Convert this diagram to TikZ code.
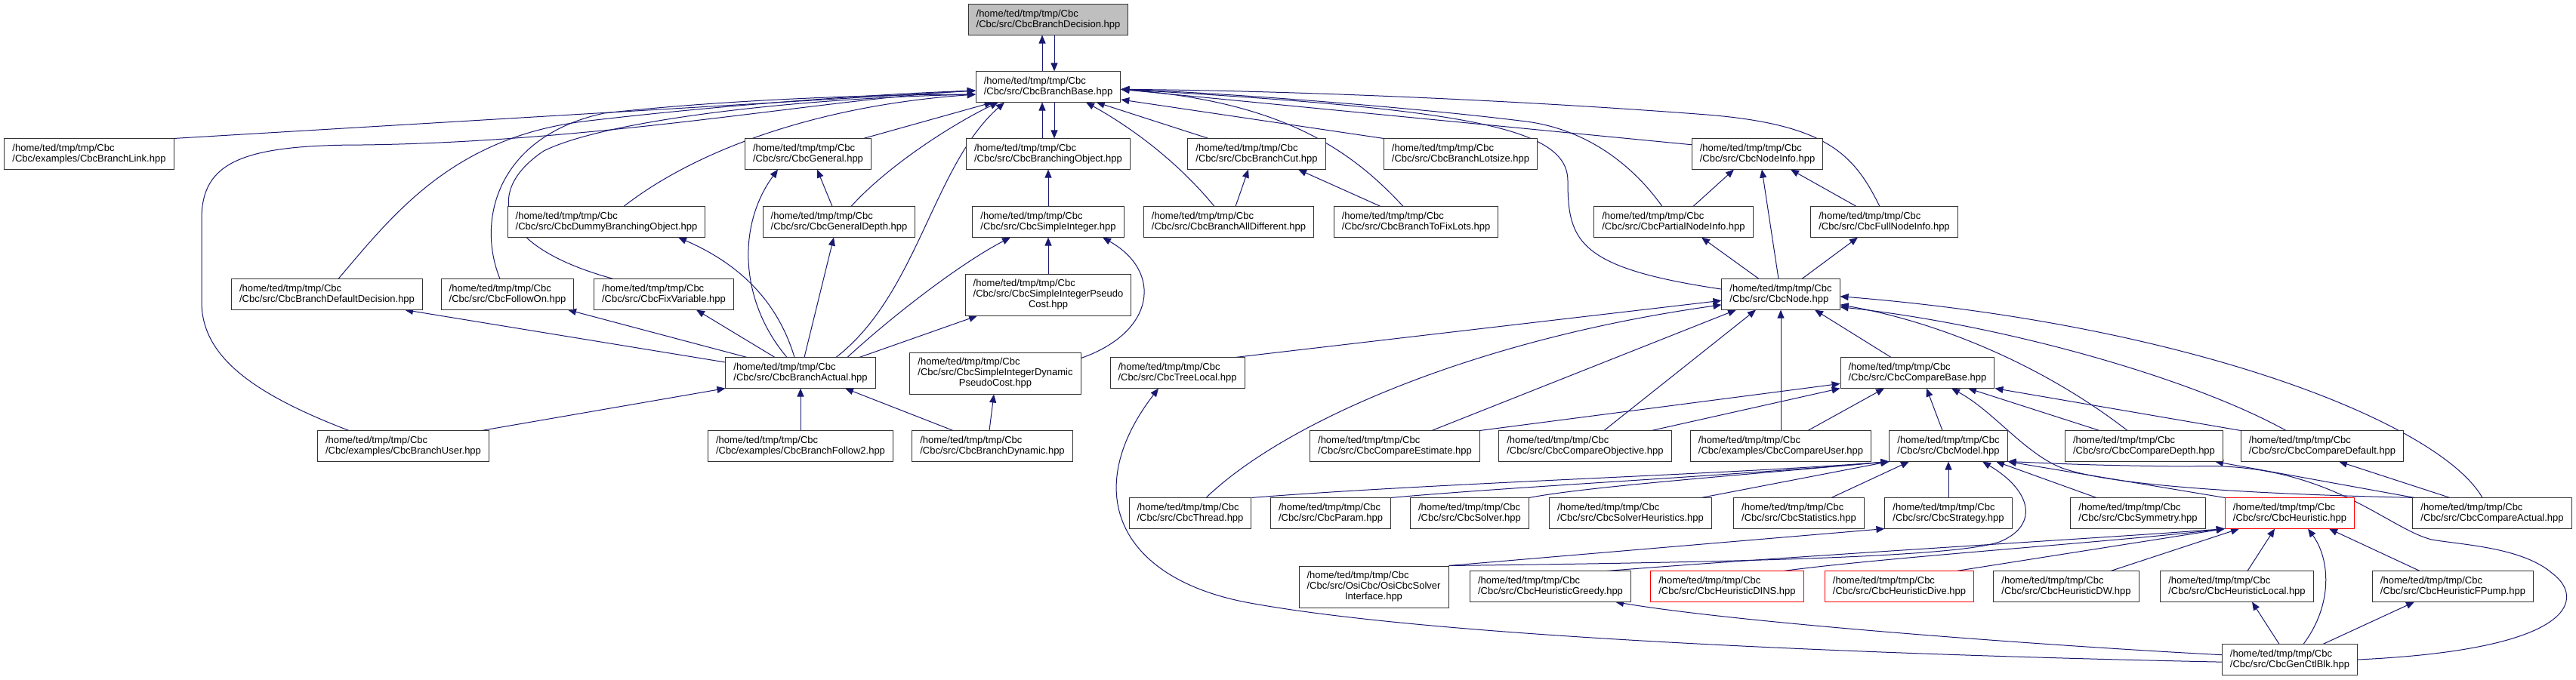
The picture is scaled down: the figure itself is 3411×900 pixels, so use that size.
\documentclass[tikz,border=0pt]{standalone}
\usepackage{fontspec}
\setmainfont{Liberation Sans}
\usetikzlibrary{arrows.meta,backgrounds}
\definecolor{edgeblue}{HTML}{191970}
\newcommand{\cbcfile}[1]{/home/ted/tmp/tmp/Cbc\\/Cbc/#1}
\newcommand{\cbcthree}[2]{\begin{tabular}{@{}l@{}}/home/ted/tmp/tmp/Cbc\\/Cbc/#1\\\multicolumn{1}{@{}c@{}}{#2}\end{tabular}}
\tikzset{
  hfile/.style={draw=black!80, line width=1pt, fill=white, align=left, inner xsep=10.5pt,
    inner ysep=7pt, minimum height=40pt, font=\fontsize{13}{14}\selectfont},
  hthree/.style={hfile, inner ysep=6.5pt},
  rootfile/.style={hfile, fill=black!25},
  redfile/.style={hfile, draw=red},
  incl/.style={draw=edgeblue, line width=1pt, -{Triangle[length=11pt,width=9pt]}}
}
\begin{document}
\begin{tikzpicture}[x=1pt,y=-1pt]
\useasboundingbox (0,0) rectangle (3411,900);
% row 0 - 2
\node[rootfile] (decision) at (1388,26) {\cbcfile{src/CbcBranchDecision.hpp}};
\node[hfile] (base) at (1388,115) {\cbcfile{src/CbcBranchBase.hpp}};
\node[hfile] (link) at (118,204) {\cbcfile{examples/CbcBranchLink.hpp}};
\node[hfile] (general) at (1070,204) {\cbcfile{src/CbcGeneral.hpp}};
\node[hfile] (branching) at (1388,204) {\cbcfile{src/CbcBranchingObject.hpp}};
\node[hfile] (cut) at (1664,204) {\cbcfile{src/CbcBranchCut.hpp}};
\node[hfile] (lotsize) at (1934,204) {\cbcfile{src/CbcBranchLotsize.hpp}};
\node[hfile] (nodeinfo) at (2327,204) {\cbcfile{src/CbcNodeInfo.hpp}};
% row 3 - 4
\node[hfile] (dummy) at (803,294) {\cbcfile{src/CbcDummyBranchingObject.hpp}};
\node[hfile] (gdepth) at (1111,294) {\cbcfile{src/CbcGeneralDepth.hpp}};
\node[hfile] (simpleint) at (1388,294) {\cbcfile{src/CbcSimpleInteger.hpp}};
\node[hfile] (alldiff) at (1627,294) {\cbcfile{src/CbcBranchAllDifferent.hpp}};
\node[hfile] (tofix) at (1875,294) {\cbcfile{src/CbcBranchToFixLots.hpp}};
\node[hfile] (partial) at (2216,294) {\cbcfile{src/CbcPartialNodeInfo.hpp}};
\node[hfile] (full) at (2495,294) {\cbcfile{src/CbcFullNodeInfo.hpp}};
\node[hfile] (defdec) at (433,390) {\cbcfile{src/CbcBranchDefaultDecision.hpp}};
\node[hfile] (followon) at (672,390) {\cbcfile{src/CbcFollowOn.hpp}};
\node[hfile] (fixvar) at (879,390) {\cbcfile{src/CbcFixVariable.hpp}};
\node[hthree] (pseudo) at (1388,390.5) {\cbcthree{src/CbcSimpleIntegerPseudo}{Cost.hpp}};
\node[hfile] (cnode) at (2358,390) {\cbcfile{src/CbcNode.hpp}};
% row 5 - 6
\node[hfile] (actual) at (1060,494) {\cbcfile{src/CbcBranchActual.hpp}};
\node[hthree] (dynpseudo) at (1318,494.5) {\cbcthree{src/CbcSimpleIntegerDynamic}{PseudoCost.hpp}};
\node[hfile] (treelocal) at (1559,494) {\cbcfile{src/CbcTreeLocal.hpp}};
\node[hfile] (cbase) at (2539,494) {\cbcfile{src/CbcCompareBase.hpp}};
\node[hfile] (user) at (534,591) {\cbcfile{examples/CbcBranchUser.hpp}};
\node[hfile] (follow2) at (1060,591) {\cbcfile{examples/CbcBranchFollow2.hpp}};
\node[hfile] (bdynamic) at (1314,591) {\cbcfile{src/CbcBranchDynamic.hpp}};
\node[hfile] (cestimate) at (1847,591) {\cbcfile{src/CbcCompareEstimate.hpp}};
\node[hfile] (cobjective) at (2099,591) {\cbcfile{src/CbcCompareObjective.hpp}};
\node[hfile] (cuser) at (2358,591) {\cbcfile{examples/CbcCompareUser.hpp}};
\node[hfile] (model) at (2580,591) {\cbcfile{src/CbcModel.hpp}};
\node[hfile] (cdepth) at (2839,591) {\cbcfile{src/CbcCompareDepth.hpp}};
\node[hfile] (cdefault) at (3075,591) {\cbcfile{src/CbcCompareDefault.hpp}};
% row 7 - 9
\node[hfile] (thread) at (1576,680) {\cbcfile{src/CbcThread.hpp}};
\node[hfile] (param) at (1762,680) {\cbcfile{src/CbcParam.hpp}};
\node[hfile] (solver) at (1946,680) {\cbcfile{src/CbcSolver.hpp}};
\node[hfile] (solverheur) at (2159,680) {\cbcfile{src/CbcSolverHeuristics.hpp}};
\node[hfile] (stats) at (2382,680) {\cbcfile{src/CbcStatistics.hpp}};
\node[hfile] (strategy) at (2580,680) {\cbcfile{src/CbcStrategy.hpp}};
\node[hfile] (symmetry) at (2831,680) {\cbcfile{src/CbcSymmetry.hpp}};
\node[redfile] (heur) at (3032,680) {\cbcfile{src/CbcHeuristic.hpp}};
\node[hfile] (cactual) at (3300,680) {\cbcfile{src/CbcCompareActual.hpp}};
\node[hthree] (osi) at (1819,777.5) {\cbcthree{src/OsiCbc/OsiCbcSolver}{Interface.hpp}};
\node[hfile] (greedy) at (2053,777) {\cbcfile{src/CbcHeuristicGreedy.hpp}};
\node[redfile] (dins) at (2287,777) {\cbcfile{src/CbcHeuristicDINS.hpp}};
\node[redfile] (dive) at (2515,777) {\cbcfile{src/CbcHeuristicDive.hpp}};
\node[hfile] (dw) at (2736,777) {\cbcfile{src/CbcHeuristicDW.hpp}};
\node[hfile] (hlocal) at (2962,777) {\cbcfile{src/CbcHeuristicLocal.hpp}};
\node[hfile] (fpump) at (3248,777) {\cbcfile{src/CbcHeuristicFPump.hpp}};
\node[hfile] (genctl) at (3032,874) {\cbcfile{src/CbcGenCtlBlk.hpp}};

\begin{scope}[on background layer]
% decision, base, branching object
\draw[incl] ([xshift=-8pt]base.north) -- ([xshift=-8pt]decision.south);
\draw[incl] ([xshift=8pt]decision.south) -- ([xshift=8pt]base.north);
\draw[incl] ([xshift=-8pt]branching.north) -- ([xshift=-8pt]base.south);
\draw[incl] ([xshift=8pt]base.south) -- ([xshift=8pt]branching.north);
% into base, left side
\draw[incl] (link.north east) -- (base.183);
\draw[incl] ([xshift=-72pt]user.north) .. controls (330,520) and (267,470) .. (267,400) -- (267,290)
  .. controls (267,215) and (320,192) .. (480,192) .. controls (800,188) and (1100,130) .. (base.183);
\draw[incl] ([xshift=15pt]defdec.north) .. controls (520,285) and (600,180) .. (780,160)
  .. controls (950,140) and (1150,125) .. (base.183);
\draw[incl] ([xshift=-10pt]followon.north) .. controls (630,290) and (660,180) .. (800,150)
  .. controls (950,133) and (1150,125) .. (base.186);
\draw[incl] ([xshift=-67pt]fixvar.north) .. controls (650,325) and (645,250) .. (720,200)
  .. controls (800,160) and (1050,130) .. (base.186);
\draw[incl] ([xshift=23pt]dummy.north) .. controls (920,200) and (1080,140) .. (base.186);
% into base, bottom
\draw[incl] (general) -- (base);
\draw[incl] ([xshift=16pt]gdepth.north) .. controls (1180,215) and (1270,160) .. ([xshift=-66pt]base.south);
\draw[incl] ([xshift=47pt]actual.north) .. controls (1215,390) and (1235,220) .. ([xshift=-58pt]base.south);
\draw[incl] (cut) -- (base);
\draw[incl] ([xshift=-19pt]alldiff.north) .. controls (1560,215) and (1500,170) .. ([xshift=50pt]base.south);
% into base, right side
\draw[incl] ([xshift=-17pt]tofix.north) .. controls (1790,200) and (1700,135) .. (base.-2);
\draw[incl] (lotsize.north west) -- (base.-10);
\draw[incl] (nodeinfo.172) -- (base.-2);
\draw[incl] ([xshift=-15pt]partial.north) .. controls (2170,230) and (2110,170) .. (2013,160)
  .. controls (1850,140) and (1600,122) .. (base.-2);
\draw[incl] ([xshift=-6pt]full.north) .. controls (2455,205) and (2420,165) .. (2260,152)
  .. controls (2000,132) and (1700,120) .. (base.-2);
\draw[incl] (cnode.175) .. controls (2090,355) and (2076,320) .. (2076,240)
  .. controls (2076,170) and (1950,145) .. (base.-2);
% branch actual and friends
\draw[incl] ([xshift=-9pt]gdepth.north) -- ([xshift=12pt]general.south);
\draw[incl] ([xshift=-18pt]actual.north) .. controls (980,400) and (975,300) .. ([xshift=-40pt]general.south);
\draw[incl] ([xshift=5pt]actual.north) -- ([xshift=-7pt]gdepth.south);
\draw[incl] ([xshift=-8pt]actual.north) .. controls (1030,400) and (980,350) .. ([xshift=95pt]dummy.south);
\draw[incl] ([xshift=-71pt]actual.north) -- ([xshift=80pt]followon.south);
\draw[incl] ([xshift=-34pt]actual.north) -- ([xshift=43pt]fixvar.south);
\draw[incl] (actual.172) -- ([xshift=103pt]defdec.south);
\draw[incl] ([xshift=62pt]actual.north) .. controls (1180,420) and (1270,350) .. ([xshift=-50pt]simpleint.south);
\draw[incl] ([xshift=78pt]actual.north) -- ([xshift=-94pt]pseudo.south);
\draw[incl] ([xshift=104pt]user.north) -- (actual.south west);
\draw[incl] (follow2) -- (actual);
\draw[incl] ([xshift=-52pt]bdynamic.north) -- ([xshift=59pt]actual.south);
\draw[incl] (simpleint) -- (branching);
\draw[incl] (pseudo) -- (simpleint);
\draw[incl] (dynpseudo.10) .. controls (1530,440) and (1540,360) .. ([xshift=72pt]simpleint.south);
\draw[incl] ([xshift=-4pt]bdynamic.north) -- ([xshift=-2pt]dynpseudo.south);
\draw[incl] ([xshift=9pt]alldiff.north) -- ([xshift=-11pt]cut.south);
\draw[incl] ([xshift=-47pt]tofix.north) -- ([xshift=55pt]cut.south);
% node info
\draw[incl] ([xshift=26pt]partial.north) -- ([xshift=-31pt]nodeinfo.south);
\draw[incl] ([xshift=-3pt]cnode.north) -- ([xshift=6pt]nodeinfo.south);
\draw[incl] ([xshift=-37pt]full.north) -- ([xshift=44pt]nodeinfo.south);
\draw[incl] ([xshift=-29pt]cnode.north) -- ([xshift=37pt]partial.south);
\draw[incl] ([xshift=28pt]cnode.north) -- ([xshift=-35pt]full.south);
% into node
\draw[incl] ([xshift=77pt]treelocal.north) -- (cnode.186);
\draw[incl] ([xshift=21pt]thread.north) .. controls (1700,560) and (1950,450) .. (cnode.190);
\draw[incl] ([xshift=49pt]cestimate.north) -- ([xshift=-59pt]cnode.south);
\draw[incl] ([xshift=25pt]cobjective.north) -- ([xshift=-33pt]cnode.south);
\draw[incl] (cuser) -- (cnode);
\draw[incl] ([xshift=-35pt]cbase.north) -- ([xshift=45pt]cnode.south);
\draw[incl] ([xshift=-22pt]cdepth.north) .. controls (2700,480) and (2560,425) .. (cnode.-10);
\draw[incl] ([xshift=-48pt]cdefault.north) .. controls (2900,500) and (2650,430) .. (cnode.-12);
\draw[incl] ([xshift=-13pt]cactual.north) .. controls (3230,560) and (2900,430) .. (cnode.-2);
% into compare base
\draw[incl] (cestimate.north east) -- (cbase.188);
\draw[incl] ([xshift=88pt]cobjective.north) -- (cbase.south west);
\draw[incl] ([xshift=36pt]cuser.north) -- ([xshift=-44pt]cbase.south);
\draw[incl] ([xshift=-8pt]model.north) -- ([xshift=12pt]cbase.south);
\draw[incl] ([xshift=-103pt]cactual.north) .. controls (3000,655) and (2800,645) .. (2730,620)
  .. controls (2680,600) and (2640,545) .. ([xshift=45pt]cbase.south);
\draw[incl] ([xshift=-59pt]cdepth.north) -- ([xshift=67pt]cbase.south);
\draw[incl] (cdefault.north west) -- (cbase.south east);
\draw[incl] ([xshift=-103pt]cactual.north) -- ([xshift=94pt]cdepth.south);
\draw[incl] ([xshift=-56pt]cactual.north) -- ([xshift=22pt]cdefault.south);
% into model
\draw[incl] (thread.north east) .. controls (1900,640) and (2300,628) .. (model.south west);
\draw[incl] (param.north east) .. controls (2000,645) and (2300,630) .. (model.south west);
\draw[incl] (solver.north east) .. controls (2100,645) and (2300,630) .. (model.south west);
\draw[incl] ([xshift=-14pt]solverheur.north east) -- (model.south west);
\draw[incl] ([xshift=43pt]stats.north) -- ([xshift=-52pt]model.south);
\draw[incl] (strategy) -- (model);
\draw[incl] (osi.north east) .. controls (2300,745) and (2600,738) .. (2650,717)
  .. controls (2700,695) and (2690,650) .. ([xshift=45pt]model.south);
\draw[incl] (osi.north east) -- (strategy.south west);
\draw[incl] ([xshift=-55pt]symmetry.north) -- ([xshift=63pt]model.south);
\draw[incl] (heur.north west) -- (model.south east);
\draw[incl] (genctl.east) .. controls (3420,860) and (3420,790) .. (3380,760)
  .. controls (3340,725) and (3260,722) .. (3220,715)
  .. controls (3160,700) and (3080,610) .. (2900,618)
  .. controls (2760,617) and (2700,613) .. (model.south east);
% into heuristic
\draw[incl] ([xshift=75pt]greedy.north) .. controls (2400,735) and (2800,712) .. (heur.south west);
\draw[incl] ([xshift=75pt]dins.north) .. controls (2500,738) and (2800,718) .. (heur.south west);
\draw[incl] ([xshift=76pt]dive.north) -- (heur.south west);
\draw[incl] ([xshift=59pt]dw.north) -- ([xshift=-67pt]heur.south);
\draw[incl] ([xshift=14pt]hlocal.north) -- ([xshift=-20pt]heur.south);
\draw[incl] ([xshift=18pt]genctl.north) .. controls (3090,800) and (3085,740) .. ([xshift=24pt]heur.south);
\draw[incl] ([xshift=-44pt]fpump.north) -- ([xshift=52pt]heur.south);
% gen ctl blk
\draw[incl] ([xshift=-14pt]genctl.north) -- ([xshift=20pt]hlocal.south);
\draw[incl] ([xshift=44pt]genctl.north) -- ([xshift=-51pt]fpump.south);
\draw[incl] (genctl.176) .. controls (2700,855) and (2300,825) .. ([xshift=86pt]greedy.south);
\draw[incl] (genctl.182) .. controls (2500,868) and (1900,845) .. (1650,798)
  .. controls (1480,765) and (1430,650) .. ([xshift=-25pt]treelocal.south);
\end{scope}
\end{tikzpicture}
\end{document}
